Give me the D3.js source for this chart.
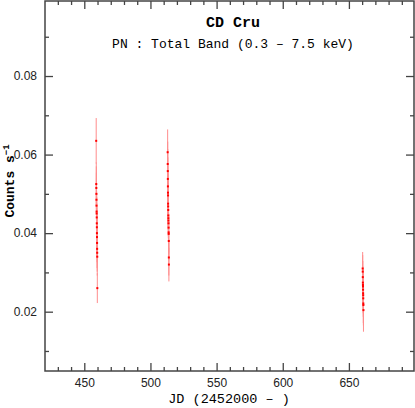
<!DOCTYPE html>
<html>
<head>
<meta charset="utf-8">
<script src="https://cdn.jsdelivr.net/npm/d3@7"></script>
<style>
  body { margin: 0; background: #fff; }
  svg { display: block; }
</style>
</head>
<body>
<svg width="415" height="408"></svg>
<script>
// light curve of CD Cru, three pointings
var times = [
  459.0, 459.05, 459.1, 459.15, 459.2, 459.25, 459.3, 459.35, 459.4, 459.45,
  459.5, 459.55, 459.6, 459.65, 459.7, 459.75, 459.8, 459.85,
  513.0, 513.05, 513.1, 513.15, 513.2, 513.25, 513.3, 513.35, 513.4, 513.45,
  513.5, 513.55, 513.6, 513.65, 513.7, 513.75, 513.8, 513.85, 513.9, 513.95,
  660.4, 660.45, 660.5, 660.55, 660.6, 660.65, 660.7, 660.75, 660.8, 660.85,
  660.9, 660.95, 661.0
];
var rates = [
  0.0635, 0.0525, 0.0515, 0.050, 0.0485, 0.047, 0.0455, 0.045, 0.044, 0.0425,
  0.0415, 0.040, 0.039, 0.0375, 0.036, 0.035, 0.034, 0.026,
  0.0606, 0.0576, 0.0558, 0.0538, 0.0519, 0.0503, 0.0496, 0.0475, 0.0468, 0.0459,
  0.0445, 0.0438, 0.0432, 0.0425, 0.0414, 0.0402, 0.0398, 0.0380, 0.0338, 0.0320,
  0.0310, 0.0302, 0.0288, 0.0274, 0.0268, 0.0264, 0.0256, 0.0247, 0.0242, 0.0234,
  0.0221, 0.0217, 0.0204
];
var errors = [
  0.0058, 0.0055, 0.0055, 0.0054, 0.0054, 0.0053, 0.0053, 0.0052, 0.0052, 0.0051,
  0.0051, 0.0050, 0.0050, 0.0049, 0.0049, 0.0048, 0.0048, 0.0038,
  0.0058, 0.0057, 0.0056, 0.0055, 0.0055, 0.0054, 0.0054, 0.0053, 0.0053, 0.0052,
  0.0052, 0.0051, 0.0051, 0.0051, 0.0050, 0.0050, 0.0050, 0.0049, 0.0046, 0.0043,
  0.0042, 0.0042, 0.0041, 0.0041, 0.0042, 0.0043, 0.0044, 0.0045, 0.0046, 0.0047,
  0.0050, 0.0052, 0.0055
];
var xMajor = [450, 500, 550, 600, 650];
var xMinor = d3.range(430, 700, 10).filter(function (v) { return v % 50; });
var yMajor = [0.02, 0.04, 0.06, 0.08];
var yMinor = [0.01, 0.03, 0.05, 0.07, 0.09];

var svg = d3.select('svg');
var plotL = 45, plotR = 414, plotT = 1, plotB = 371;

var x = d3.scaleLinear().domain([420.3, 699.2]).range([plotL, plotR]);
var y = d3.scaleLinear().domain([0.0049, 0.0991]).range([plotB, plotT]);

var frameColor = '#444';

// error bars
svg.selectAll('.err')
  .data(rates)
  .enter().append('line')
  .attr('x1', function (d, i) { return x(times[i]); })
  .attr('x2', function (d, i) { return x(times[i]); })
  .attr('y1', function (d, i) { return y(d + errors[i]); })
  .attr('y2', function (d, i) { return y(d - errors[i]); })
  .style('stroke', '#ff8c8c')
  .style('stroke-width', 1);

// points
svg.selectAll('.pt')
  .data(rates)
  .enter().append('rect')
  .attr('x', function (d, i) { return x(times[i]) - 1; })
  .attr('y', function (d) { return y(d) - 1; })
  .attr('width', 2)
  .attr('height', 2)
  .style('fill', '#ff0000');

// axes, ticks pointing in
function styleAxis(g) {
  g.select('.domain').remove();
  g.selectAll('line').style('stroke', frameColor).style('stroke-width', 1.3);
  g.selectAll('text').style('font-family', '"Liberation Sans", Arial, sans-serif')
    .style('font-size', '12px').style('fill', '#222');
}

svg.append('g').attr('transform', 'translate(0,' + plotB + ')')
  .call(d3.axisBottom(x).tickValues(xMajor).tickSize(-8).tickPadding(7).tickFormat(d3.format('d')))
  .call(styleAxis);
svg.append('g').attr('transform', 'translate(0,' + plotB + ')')
  .call(d3.axisBottom(x).tickValues(xMinor).tickSize(-4).tickFormat(''))
  .call(styleAxis);
svg.append('g').attr('transform', 'translate(0,' + plotT + ')')
  .call(d3.axisTop(x).tickValues(xMajor).tickSize(-8).tickFormat(''))
  .call(styleAxis);
svg.append('g').attr('transform', 'translate(0,' + plotT + ')')
  .call(d3.axisTop(x).tickValues(xMinor).tickSize(-4).tickFormat(''))
  .call(styleAxis);

svg.append('g').attr('transform', 'translate(' + plotL + ',0)')
  .call(d3.axisLeft(y).tickValues(yMajor).tickSize(-8).tickPadding(8).tickFormat(d3.format('.2f')))
  .call(styleAxis);
svg.append('g').attr('transform', 'translate(' + plotL + ',0)')
  .call(d3.axisLeft(y).tickValues(yMinor).tickSize(-4).tickFormat(''))
  .call(styleAxis);
svg.append('g').attr('transform', 'translate(' + plotR + ',0)')
  .call(d3.axisRight(y).tickValues(yMajor).tickSize(-8).tickFormat(''))
  .call(styleAxis);
svg.append('g').attr('transform', 'translate(' + plotR + ',0)')
  .call(d3.axisRight(y).tickValues(yMinor).tickSize(-4).tickFormat(''))
  .call(styleAxis);

// frame
svg.append('rect')
  .attr('x', plotL).attr('y', plotT)
  .attr('width', plotR - plotL).attr('height', plotB - plotT)
  .style('fill', 'none').style('stroke', frameColor).style('stroke-width', 1.5);

// titles
var mono = '"Liberation Mono", "Courier New", monospace';
svg.append('text').attr('x', 233).attr('y', 27)
  .attr('text-anchor', 'middle')
  .style('font-family', mono).style('font-weight', 'bold').style('font-size', '15px')
  .text('CD Cru');
svg.append('text').attr('x', 233).attr('y', 48)
  .attr('text-anchor', 'middle')
  .style('font-family', mono).style('font-size', '13px')
  .text('PN : Total Band (0.3 \u2013 7.5 keV)');
svg.append('text').attr('x', 229).attr('y', 403)
  .attr('text-anchor', 'middle')
  .style('font-family', mono).style('font-size', '13.5px')
  .text('JD (2452000 \u2013 )');

var ylab = svg.append('text')
  .attr('transform', 'translate(14,181) rotate(-90)')
  .attr('text-anchor', 'middle')
  .style('font-family', mono).style('font-weight', 'bold').style('font-size', '13px');
ylab.append('tspan').text('Counts s');
ylab.append('tspan').attr('dy', -5).style('font-size', '9px').text('\u22121');
</script>
</body>
</html>
